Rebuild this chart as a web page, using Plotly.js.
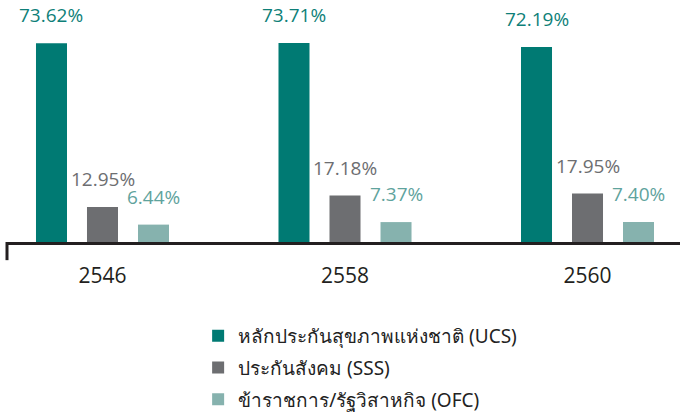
<!DOCTYPE html>
<html>
<head>
<meta charset="utf-8">
<script src="https://cdn.plot.ly/plotly-3.0.1.min.js"></script>
<style>html,body{margin:0;padding:0;background:#fff;}#chart{width:680px;height:412px;}</style>
</head>
<body>
<div id="chart"></div>
<script>
const years = ['2546', '2558', '2560'];
const seriesNames = ['หลักประกันสุขภาพแห่งชาติ (UCS)', 'ประกันสังคม (SSS)', 'ข้าราชการ/รัฐวิสาหกิจ (OFC)'];
const ucs = [73.62, 73.71, 72.19];
const sss = [12.95, 17.18, 17.95];
const ofc = [6.44, 7.37, 7.40];
const barColors = ['#007A73', '#6D6E71', '#86B2AE'];
const labelColors = ['#0E7F78', '#6D6E71', '#5FA39D'];

const series = [ucs, sss, ofc];
const bargap = 0.369;
const slot = (1 - bargap) / 3;

const traces = series.map((vals, j) => ({
  type: 'bar',
  x: years,
  y: vals,
  name: seriesNames[j],
  legendgroup: 'g' + j,
  marker: {color: barColors[j]},
  hoverinfo: 'skip'
}));

const annotations = [];
series.forEach((vals, j) => {
  vals.forEach((v, i) => {
    annotations.push({
      x: i + (j - 1) * slot,
      y: v,
      xref: 'x', yref: 'y',
      text: v.toFixed(2) + '%',
      showarrow: false,
      yanchor: 'bottom',
      yshift: 13,
      font: {family: 'Open Sans, sans-serif', size: 19, weight: 500, color: labelColors[j]}
    });
  });
});

const layout = {
  width: 680, height: 412,
  margin: {l: 7, r: 0, t: 0, b: 170, autoexpand: false},
  paper_bgcolor: '#fff', plot_bgcolor: '#fff',
  barmode: 'group',
  bargap: bargap,
  bargroupgap: 0.392,
  showlegend: true,
  legend: {
    x: 0.284, xanchor: 'left', y: -0.31, yanchor: 'top',
    font: {family: 'Noto Sans, Open Sans, sans-serif', size: 19, color: '#222'},
    tracegroupgap: 4,
    traceorder: 'grouped'
  },
  xaxis: {
    type: 'category',
    range: [-0.3938, 2.3814],
    showline: true, linecolor: '#231F20', linewidth: 3,
    ticks: '', showgrid: false, zeroline: false,
    tickfont: {family: 'Open Sans, sans-serif', size: 21, color: '#231F20'},
    ticklabelstandoff: 13
  },
  yaxis: {
    range: [0, 89.6],
    visible: false, showgrid: false, zeroline: false
  },
  shapes: [{
    type: 'line', xref: 'paper', yref: 'paper',
    x0: 0, x1: 0, y0: 0, y1: -0.075,
    line: {color: '#231F20', width: 3}
  }],
  annotations: annotations
};

Plotly.newPlot('chart', traces, layout, {staticPlot: true});
</script>
</body>
</html>
